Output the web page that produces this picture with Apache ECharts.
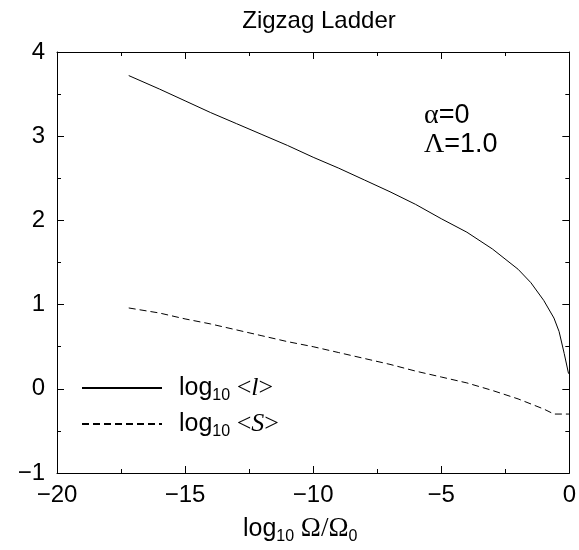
<!DOCTYPE html>
<html>
<head>
<meta charset="utf-8">
<script src="https://cdn.jsdelivr.net/npm/echarts@6/dist/echarts.min.js"></script>
<style>html,body{margin:0;padding:0;background:#fff}#c{width:579px;height:550px}</style>
</head>
<body>
<div id="c"></div>
<script>
// log10 <l> curve
var lX = [-17.2, -16, -15, -14, -13, -12, -11, -10, -9, -8, -7, -6, -5, -4, -3, -2, -1.5, -1, -0.6, -0.4, -0.2, -0.03];
var lY = [3.72, 3.56, 3.42, 3.28, 3.15, 3.02, 2.89, 2.75, 2.62, 2.48, 2.34, 2.19, 2.02, 1.86, 1.66, 1.42, 1.26, 1.05, 0.84, 0.68, 0.42, 0.18];
// log10 <S> curve
var sX = [-17.2, -16, -15, -14, -13, -12, -11, -10, -9, -8, -7, -6, -5, -4, -3, -2, -1, -0.6, 0];
var sY = [0.96, 0.90, 0.83, 0.77, 0.70, 0.63, 0.56, 0.50, 0.43, 0.36, 0.29, 0.21, 0.14, 0.07, -0.02, -0.12, -0.24, -0.30, -0.30];
var xTicks = {min: -20, max: 0, interval: 5};
var yTicks = {min: -1, max: 4, interval: 1};
var titleText = 'Zigzag Ladder';
var annot1 = ['\u03b1', '=0'];
var annot2 = ['\u039b', '=1.0'];

function pairs(xs, ys) { return xs.map(function (x, i) { return [x, ys[i]]; }); }
var SANS = 'Liberation Sans, Arial, sans-serif';
var SERIF = 'Liberation Serif, Times New Roman, serif';
function minus(v) { return String(v).replace('-', '\u2212'); }

var chart = echarts.init(document.getElementById('c'), null, {renderer: 'canvas'});
var axisCommon = {
  splitLine: {show: false},
  axisLine: {onZero: false, lineStyle: {color: '#000', width: 1}},
  axisTick: {inside: true, length: 7, lineStyle: {color: '#000'}},
  minorTick: {show: true, splitNumber: 2, length: 4, lineStyle: {color: '#000'}}
};
var legendRich = {
  log: {fontFamily: SANS, fontSize: 25, color: '#000', padding: [0, 0, 0, 12]},
  sub: {fontFamily: SANS, fontSize: 16, color: '#000', padding: [16, 0, 0, 0]},
  br: {fontFamily: SERIF, fontSize: 26, color: '#000'},
  it: {fontFamily: SERIF, fontSize: 26, fontStyle: 'italic', color: '#000'}
};
var option = {
  animation: false,
  backgroundColor: '#fff',
  title: {
    text: titleText, left: 314, top: 4, textAlign: 'center',
    textStyle: {fontFamily: SANS, fontSize: 24, fontWeight: 'normal', color: '#000'}
  },
  grid: {left: 57, right: 8, top: 52, bottom: 74, containLabel: false},
  legend: {
    orient: 'vertical', left: 76, top: 370, itemWidth: 80, itemHeight: 14, itemGap: 7,
    data: ['l', 'S'],
    itemStyle: {opacity: 0},
    formatter: function (n) { return '{log|log}{sub|10}{br| <}{it|' + n + '}{br|>}'; },
    textStyle: {rich: legendRich}
  },
  xAxis: [
    Object.assign({}, axisCommon, {
      type: 'value', min: xTicks.min, max: xTicks.max, interval: xTicks.interval, position: 'bottom',
      axisLabel: {formatter: minus, fontFamily: SANS, fontSize: 24, color: '#000', margin: 10},
      name: '{a|log}{s|10}{o| \u03a9/\u03a9}{s|0}', nameLocation: 'middle', nameGap: 40,
      nameTextStyle: {padding: [0, 26, 0, 0], rich: {
        a: {fontFamily: SANS, fontSize: 25, color: '#000'},
        s: {fontFamily: SANS, fontSize: 16, color: '#000', padding: [16, 0, 0, 0]},
        o: {fontFamily: SERIF, fontSize: 27, color: '#000'}
      }}
    }),
    Object.assign({}, axisCommon, {
      type: 'value', min: xTicks.min, max: xTicks.max, interval: xTicks.interval, position: 'top',
      axisLabel: {show: false}
    })
  ],
  yAxis: [
    Object.assign({}, axisCommon, {
      type: 'value', min: yTicks.min, max: yTicks.max, interval: yTicks.interval, position: 'left',
      axisLabel: {formatter: minus, fontFamily: SANS, fontSize: 24, color: '#000', margin: 12}
    }),
    Object.assign({}, axisCommon, {
      type: 'value', min: yTicks.min, max: yTicks.max, interval: yTicks.interval, position: 'right',
      axisLabel: {show: false}
    })
  ],
  graphic: [
    {type: 'text', left: 424, top: 102, style: {
      text: '{g|' + annot1[0] + '}{t|' + annot1[1] + '}',
      rich: {g: {fontFamily: SERIF, fontSize: 28, fill: '#000'}, t: {fontFamily: SANS, fontSize: 27, fill: '#000'}}
    }},
    {type: 'text', left: 424, top: 131, style: {
      text: '{g|' + annot2[0] + '}{t|' + annot2[1] + '}',
      rich: {g: {fontFamily: SERIF, fontSize: 28, fill: '#000'}, t: {fontFamily: SANS, fontSize: 27, fill: '#000'}}
    }}
  ],
  series: [
    {name: 'l', type: 'line', data: pairs(lX, lY), showSymbol: false, symbol: 'none',
     lineStyle: {color: '#000', width: 1}, itemStyle: {color: '#000'}},
    {name: 'S', type: 'line', data: pairs(sX, sY), showSymbol: false, symbol: 'none',
     lineStyle: {color: '#000', width: 1, type: [7, 4]}, itemStyle: {color: '#000'}}
  ]
};
chart.setOption(option);
</script>
</body>
</html>
